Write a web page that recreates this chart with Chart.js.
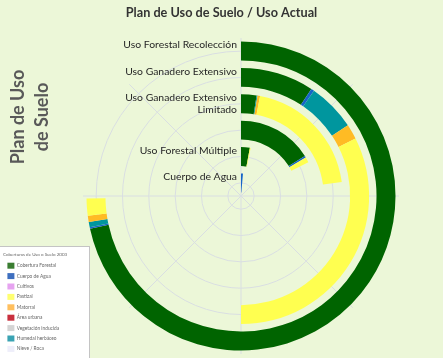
<!DOCTYPE html>
<html>
<head>
<meta charset="utf-8">
<script src="https://cdn.jsdelivr.net/npm/chart.js@4/dist/chart.umd.min.js"></script>
<style>
  html, body { margin: 0; padding: 0; }
  body { width: 443px; height: 358px; background: #ecf7d8; position: relative; overflow: hidden; }
  canvas { position: absolute; }
  #grid, #anillos { left: 83px; top: 38px; }
  #etiquetas { left: 0; top: 0; }
  #caja-leyenda {
    position: absolute; left: 0; top: 246px; width: 89px; height: 112px;
    background: #fff; border-top: 1px solid #c4c4c4; border-right: 1px solid #c4c4c4;
  }
</style>
</head>
<body>
<canvas id="grid" width="316" height="316"></canvas>
<canvas id="anillos" width="316" height="316"></canvas>
<canvas id="etiquetas" width="443" height="358"></canvas>
<div id="caja-leyenda"><canvas id="leyenda" width="89" height="112"></canvas></div>
<script>
// Plan de uso (anillos, de afuera hacia adentro)
const categorias = [
    'Uso Forestal Recolección',
    'Uso Ganadero Extensivo',
    ['Uso Ganadero Extensivo', 'Limitado'],
    '',
    'Uso Forestal Múltiple',
    'Cuerpo de Agua'
];

// Uso actual por anillo (% del circulo completo), en orden de apilado
const forestal = [71.6, 9.25, 2.45, 16.1, 2.9, 0];
const agua     = [0.15, 0.4, 0, 0.35, 0, 1.4];
const humedal  = [0.55, 6.05, 0.15, 0, 0, 0];
const matorral = [0.65, 1.9, 0.4, 0, 0, 0];
const pastizal = [1.8, 32.4, 19.8, 1.15, 0.25, 0];
const ejeMax = 100;

const series = [
    { nombre: 'Cobertura Forestal', datos: forestal, color: '#006400' },
    { nombre: 'Cuerpo de Agua', datos: agua, color: '#1565c8' },
    { nombre: 'Humedal herbáceo', datos: humedal, color: '#00969e' },
    { nombre: 'Matorral', datos: matorral, color: '#ffbb24' },
    { nombre: 'Pastizal', datos: pastizal, color: '#ffff50' }
];

// Leyenda (imagen pegada en el original)
const tituloLeyenda = 'Coberturas de Uso o Suelo 2003';
const coberturas = ['Cobertura Forestal', 'Cuerpo de Agua', 'Cultivos', 'Pastizal', 'Matorral',
    'Área urbana', 'Vegetación inducida', 'Humedal herbáceo', 'Nieve / Roca'];
const coloresLeyenda = ['#3a7d32', '#3e6fbf', '#e6a3f0', '#ffff70', '#ffbf5e',
    '#c9303e', '#d4d4d4', '#3aa3b3', '#eeeefa'];

const tituloGrafico = 'Plan de Uso de Suelo / Uso Actual';
const tituloEje = ['Plan de Uso', 'de Suelo'];
const vacio = 'rgba(0,0,0,0)';
const colorGrid = '#d9dee2';

// Grid polar: circulos en cada categoria, radios cada 45 grados
new Chart(document.getElementById('grid'), {
    type: 'radar',
    data: { labels: ['', '', '', '', '', '', '', ''], datasets: [] },
    options: {
        responsive: false,
        animation: false,
        events: [],
        plugins: { legend: { display: false }, tooltip: { enabled: false } },
        scales: {
            r: {
                min: -0.5,
                max: categorias.length - 0.5,
                afterBuildTicks: (scale) => {
                    scale.ticks = categorias.map((c, i) => ({ value: i }));
                },
                ticks: { display: false },
                pointLabels: { display: false },
                grid: { circular: true, color: colorGrid, lineWidth: 1 },
                angleLines: { color: colorGrid, lineWidth: 1 }
            }
        }
    }
});

// Anillos: un dataset por categoria, con separadores transparentes
const datasets = [];
categorias.forEach((cat, i) => {
    if (i > 0) {
        datasets.push({ data: [1], backgroundColor: [vacio], borderWidth: 0, weight: 7.4 });
    }
    const valores = series.map(s => s.datos[i]);
    const resto = ejeMax - valores.reduce((a, b) => a + b, 0);
    datasets.push({
        data: [...valores, resto],
        backgroundColor: [...series.map(s => s.color), vacio],
        borderWidth: 0,
        weight: 19
    });
});

new Chart(document.getElementById('anillos'), {
    type: 'doughnut',
    data: { labels: [...series.map(s => s.nombre), 'resto'], datasets: datasets },
    options: {
        responsive: false,
        animation: false,
        events: [],
        radius: 154.5,
        cutout: 3.7,
        plugins: { legend: { display: false }, tooltip: { enabled: false } }
    }
});

// Titulo y etiquetas de categoria
new Chart(document.getElementById('etiquetas'), {
    type: 'bar',
    data: { labels: categorias, datasets: [] },
    options: {
        responsive: false,
        animation: false,
        events: [],
        indexAxis: 'y',
        layout: { padding: { top: 0, bottom: 162, left: 0, right: 0 } },
        plugins: {
            legend: { display: false },
            tooltip: { enabled: false },
            title: {
                display: true,
                text: tituloGrafico,
                color: '#333',
                font: { family: 'Lato', size: 12.7, weight: 'bold', lineHeight: 1.134 },
                padding: { top: 6, bottom: 17.6 }
            }
        },
        scales: {
            x: { type: 'linear', display: false },
            y: {
                type: 'category',
                offset: true,
                grid: { display: false, drawTicks: false },
                border: { display: false },
                afterFit: (scale) => { scale.width = 241; },
                ticks: {
                    padding: 4,
                    autoSkip: false,
                    color: '#262626',
                    font: { family: 'Lato', size: 10.4 },
                    callback: function (value) {
                        const l = this.getLabelForValue(value);
                        return Array.isArray(l) ? l : [l, ''];
                    }
                },
                title: {
                    display: true,
                    text: tituloEje,
                    color: '#595959',
                    font: { family: 'Lato', size: 18, weight: 'bold', lineHeight: 1.333 },
                    padding: { top: 6, bottom: 0 }
                }
            }
        }
    }
});

// Leyenda de coberturas
new Chart(document.getElementById('leyenda'), {
    type: 'doughnut',
    data: { labels: coberturas, datasets: [] },
    options: {
        responsive: false,
        animation: false,
        events: [],
        layout: { padding: { left: 3 } },
        plugins: {
            tooltip: { enabled: false },
            legend: {
                position: 'left',
                align: 'start',
                maxWidth: 89,
                title: {
                    display: true,
                    text: tituloLeyenda,
                    position: 'start',
                    color: '#666',
                    font: { family: 'Lato', size: 4.5, lineHeight: 1.4 },
                    padding: { top: 5, bottom: 0 }
                },
                labels: {
                    boxWidth: 7,
                    boxHeight: 6,
                    padding: 4.4,
                    color: '#999',
                    font: { family: 'Lato', size: 4.8 },
                    generateLabels: () => coberturas.map((t, i) => ({
                        text: t,
                        fillStyle: coloresLeyenda[i],
                        strokeStyle: coloresLeyenda[i],
                        lineWidth: 0,
                        hidden: false,
                        index: i
                    }))
                }
            }
        }
    }
});
</script>
</body>
</html>
